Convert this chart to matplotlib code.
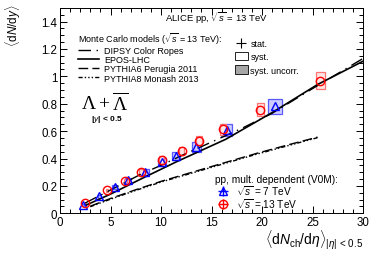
import matplotlib
matplotlib.use("Agg")
import matplotlib.pyplot as plt
from matplotlib.lines import Line2D
from matplotlib.patches import Patch
from matplotlib.ticker import MultipleLocator, FuncFormatter

plt.rcParams["font.family"] = ["Liberation Sans", "DejaVu Sans"]
plt.rcParams["mathtext.fontset"] = "custom"
plt.rcParams["mathtext.rm"] = "Liberation Sans"
plt.rcParams["mathtext.sf"] = "Liberation Sans"
plt.rcParams["mathtext.it"] = "Liberation Sans:italic"
plt.rcParams["mathtext.bf"] = "Liberation Sans:bold"
plt.rcParams["mathtext.cal"] = "Liberation Serif"

# measured data, pp 7 TeV (blue) and 13 TeV (red)
mult_7 = [21.3, 16.5, 13.5, 11.5, 10.1, 8.45, 6.72, 5.40, 3.90, 2.26]
lam_7 = [0.780, 0.608, 0.487, 0.420, 0.375, 0.304, 0.240, 0.190, 0.124, 0.062]
sysx_7 = [0.66, 0.52, 0.45, 0.40, 0.36, 0.32, 0.27, 0.23, 0.18, 0.12]
sysy_7 = [0.055, 0.044, 0.036, 0.031, 0.028, 0.023, 0.018, 0.015, 0.011, 0.006]

mult_13 = [25.75, 19.83, 16.12, 13.76, 12.06, 10.05, 8.05, 6.48, 4.64, 2.52]
lam_13 = [0.968, 0.756, 0.615, 0.530, 0.457, 0.389, 0.304, 0.236, 0.168, 0.075]
sysx_13 = [0.45, 0.36, 0.30, 0.27, 0.24, 0.21, 0.18, 0.16, 0.13, 0.09]
sysy_13 = [0.062, 0.049, 0.040, 0.035, 0.030, 0.026, 0.021, 0.017, 0.013, 0.007]

# Monte Carlo curves
dipsy_x = [2.5, 5, 8, 10, 12, 15, 18, 21, 25, 30]
dipsy_y = [0.075, 0.17, 0.285, 0.35, 0.42, 0.52, 0.62, 0.73, 0.91, 1.13]
epos_x = [2.6, 5, 8, 11.5, 16.4, 21, 25.5, 30]
epos_y = [0.06, 0.14, 0.25, 0.375, 0.54, 0.735, 0.94, 1.11]
p6_x = [3, 5, 7.5, 10, 13, 16, 19.5, 22.5, 25.5]
p6_y = [0.052, 0.108, 0.172, 0.233, 0.298, 0.363, 0.438, 0.498, 0.556]
p8_x = [3, 5, 7.5, 10, 13, 16, 19.5, 22.5, 25.5]
p8_y = [0.048, 0.103, 0.167, 0.228, 0.292, 0.357, 0.432, 0.492, 0.552]

W, H = 374, 255
fig = plt.figure(figsize=(W / 100, H / 100), dpi=100)
x0, x1, ytop, ybot = 60, 363, 8.8, 214.3
ax = fig.add_axes([x0 / W, 1 - ybot / H, (x1 - x0) / W, (ybot - ytop) / H])
ax.set_xlim(0, 30)
ax.set_ylim(0, 1.5)

# syst boxes
ax.bar(mult_7, [2 * s for s in sysy_7], width=[2 * s for s in sysx_7],
       bottom=[y - s for y, s in zip(lam_7, sysy_7)],
       facecolor=(0.8, 0.8, 1.0), edgecolor=(0.35, 0.35, 1.0), linewidth=0.9, zorder=2)
ax.bar(mult_13, [2 * s for s in sysy_13], width=[2 * s for s in sysx_13],
       bottom=[y - s for y, s in zip(lam_13, sysy_13)],
       facecolor=(1.0, 0.9, 0.9), edgecolor=(1.0, 0.45, 0.45), linewidth=0.9, zorder=2)

# model curves
ln_dipsy, = ax.plot(dipsy_x, dipsy_y, color="black", lw=1.0,
                    linestyle=(0, (9, 4, 1, 4)), zorder=3)
ln_epos, = ax.plot(epos_x, epos_y, color="black", lw=1.2, zorder=3)
ln_p6, = ax.plot(p6_x, p6_y, color="black", lw=1.0, linestyle=(0, (7, 3)), zorder=3)
ln_p8, = ax.plot(p8_x, p8_y, color="black", lw=1.0,
                 linestyle=(0, (3, 1.5, 1, 1.5, 1, 1.5, 1, 1.5)), zorder=3)

eb7 = ax.errorbar(mult_7, lam_7, xerr=0, yerr=0, fmt="^", ms=6, mfc="none",
                  mec="blue", mew=1.0, ecolor="blue", elinewidth=1.0, zorder=4)
eb13 = ax.errorbar(mult_13, lam_13, xerr=0, yerr=0, fmt="o", ms=6, mfc="none",
                   mec="red", mew=1.0, ecolor="red", elinewidth=1.0, zorder=4)

# axes style
ax.xaxis.set_major_locator(MultipleLocator(5))
ax.xaxis.set_minor_locator(MultipleLocator(1))
ax.yaxis.set_major_locator(MultipleLocator(0.2))
ax.yaxis.set_minor_locator(MultipleLocator(0.05))
ax.yaxis.set_major_formatter(FuncFormatter(lambda v, p: f"{v:g}"))
ax.tick_params(which="both", direction="in", top=True, right=True, width=0.7,
               labelsize=8.3, pad=2)
ax.tick_params(which="major", length=5)
ax.tick_params(which="minor", length=2.6)
for sp in ax.spines.values():
    sp.set_linewidth(0.7)

# legends
leg_mc = ax.legend([ln_dipsy, ln_epos, ln_p6, ln_p8],
                   ["DIPSY Color Ropes", "EPOS-LHC", "PYTHIA6 Perugia 2011",
                    "PYTHIA8 Monash 2013"],
                   title=r"Monte Carlo models ($\sqrt{s}$ = 13 TeV):",
                   loc="upper left", bbox_to_anchor=(0.059, 0.892), frameon=False,
                   fontsize=6.5, title_fontsize=6.5, handlelength=2.3,
                   handletextpad=0.6, labelspacing=0.03, borderpad=0,
                   borderaxespad=0, alignment="left")
ax.add_artist(leg_mc)

h_stat = Line2D([], [], color="black", marker="+", ms=7, mew=0.8, linestyle="none")
h_syst = Patch(facecolor="white", edgecolor="black", linewidth=0.6)
h_unc = Patch(facecolor=(0.65, 0.65, 0.65), edgecolor="black", linewidth=0.6)
leg_err = ax.legend([h_stat, h_syst, h_unc], ["stat.", "syst.", "syst. uncorr."],
                    loc="upper left", bbox_to_anchor=(0.578, 0.848), frameon=False,
                    fontsize=6.5, handlelength=1.4, handleheight=1.0,
                    handletextpad=0.3, labelspacing=0.45, borderpad=0,
                    borderaxespad=0)
ax.add_artist(leg_err)

ax.legend([eb7, eb13], [r"$\sqrt{s}$ = 7 TeV", r"$\sqrt{s}$ = 13 TeV"],
          title="pp, mult. dependent (V0M):", loc="upper left",
          bbox_to_anchor=(0.512, 0.19), frameon=False, fontsize=7.3,
          title_fontsize=7.3, handlelength=1.6, handletextpad=0.5,
          labelspacing=-0.1, borderpad=0, borderaxespad=0, alignment="left")

ax.text(0.3465, 0.936, r"ALICE pp, $\sqrt{s}$ = 13 TeV", transform=ax.transAxes,
        ha="left", va="baseline", fontsize=6.8)
ax.text(0.1485, 0.503, r"$\mathcal{\Lambda+\overline{\Lambda}}$", transform=ax.transAxes,
        ha="center", va="baseline", fontsize=14)
ax.text(0.155, 0.46, r"|$y$| < 0.5", transform=ax.transAxes, ha="center",
        va="center", fontsize=6, fontweight="bold")

ax.text(1.0, -0.125, r"$\langle\mathrm{d}N_{\mathrm{ch}}/\mathrm{d}\eta\rangle_{|\eta|\,<\,0.5}$",
        transform=ax.transAxes, ha="right", va="center", fontsize=10)
fig.text(13 / W, 1 - 4 / H, r"$\langle\mathrm{d}N/\mathrm{d}y\rangle$", rotation=90,
         ha="center", va="top", fontsize=8.5)

fig.savefig("out.png", dpi=100)
